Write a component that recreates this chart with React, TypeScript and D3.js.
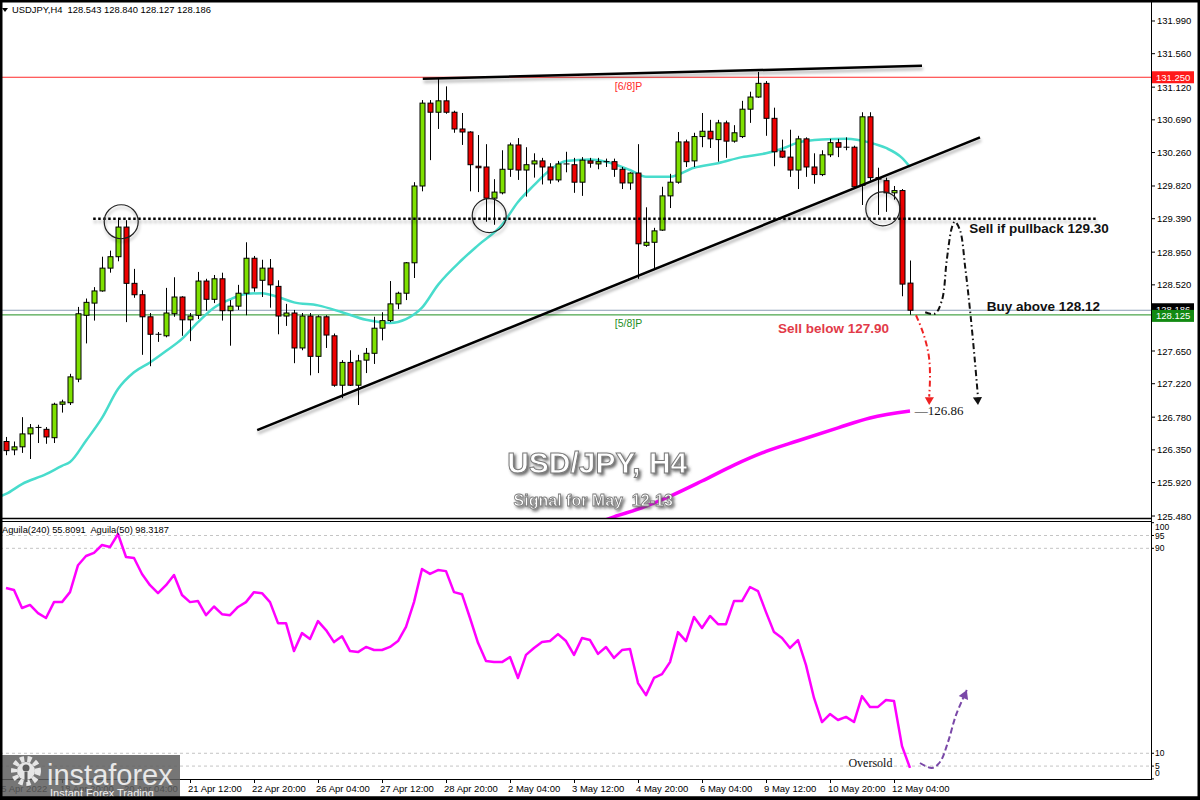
import * as d3 from "d3";

// USDJPY H4 candles, 15 Apr 16:00 .. 12 May 12:00 (bar index 0..113)
const openPrices = [
  126.46, 126.35, 126.39, 126.56, 126.64, 126.62, 126.51, 126.95, 126.97, 127.28,
  128.12, 128.28, 128.44, 128.74, 128.89, 129.28, 128.54, 128.39, 128.1, 127.87,
  127.85, 128.14, 128.36, 128.06, 128.12, 128.57, 128.33, 128.6, 128.18, 128.24,
  128.41, 128.87, 128.58, 128.74, 128.5, 128.11, 128.15, 127.69, 128.11, 127.58,
  128.1, 127.85, 127.2, 127.5, 127.2, 127.53, 127.62, 127.95, 128.05, 128.27,
  128.41, 128.81, 129.82, 130.91, 130.79, 130.94, 130.79, 130.57, 130.53, 130.08,
  130.07, 129.66, 129.73, 130.04, 130.36, 130.03, 130.11, 130.15, 130.07, 129.9,
  130.11, 130.1, 129.87, 130.15, 130.11, 130.14, 130.14, 130.04, 129.86, 129.99,
  129.04, 129.08, 129.24, 129.69, 129.87, 130.4, 130.15, 130.47, 130.54, 130.43,
  130.65, 130.41, 130.47, 130.83, 130.99, 131.17, 130.71, 130.28, 130.2, 130.03,
  130.44, 130.07, 129.97, 130.23, 130.39, 130.33, 130.33, 129.83, 130.73, 129.93,
  129.89, 129.73, 129.76, 128.543,
];
const highPrices = [
  126.52, 126.46, 126.78, 126.69, 126.68, 126.65, 126.97, 127.01, 127.35, 128.23,
  128.34, 128.49, 128.89, 128.97, 129.4, 129.37, 128.73, 128.45, 128.15, 127.9,
  128.48, 128.62, 128.37, 128.15, 128.69, 128.6, 128.65, 128.68, 128.32, 128.52,
  129.08, 128.9, 128.85, 128.86, 128.58, 128.27, 128.19, 128.15, 128.15, 128.12,
  128.12, 127.88, 127.53, 127.66, 127.6, 127.69, 128.1, 128.16, 128.57, 128.43,
  128.82, 129.87, 130.95, 130.95, 131.23, 131.13, 130.81, 130.78, 130.54, 130.49,
  130.37, 129.91, 130.29, 130.39, 130.45, 130.33, 130.25, 130.19, 130.12, 130.15,
  130.27, 130.19, 130.2, 130.19, 130.19, 130.18, 130.18, 130.07, 130.0, 130.37,
  129.54, 129.27, 129.81, 129.98, 130.53, 130.43, 130.52, 130.78, 130.69, 130.69,
  130.68, 130.62, 130.94, 131.06, 131.32, 131.2, 130.85, 130.43, 130.56, 130.48,
  130.46, 130.25, 130.29, 130.44, 130.44, 130.46, 130.35, 130.79, 130.79, 130.06,
  129.93, 129.82, 129.78, 128.84,
];
const lowPrices = [
  126.28, 126.28, 126.31, 126.23, 126.44, 126.43, 126.44, 126.84, 126.94, 127.24,
  127.75, 128.05, 128.43, 128.68, 128.83, 128.03, 128.35, 127.6, 127.45, 127.77,
  127.83, 128.1, 127.85, 127.78, 128.07, 128.18, 128.28, 128.05, 127.72, 128.19,
  128.12, 128.43, 128.36, 128.22, 127.87, 127.98, 127.49, 127.66, 127.33, 127.36,
  127.69, 127.18, 127.03, 127.19, 126.94, 127.36, 127.48, 127.79, 128.03, 128.2,
  128.32, 128.61, 129.75, 130.16, 130.57, 130.77, 130.52, 130.36, 129.75, 129.74,
  129.35, 129.31, 129.71, 129.94, 129.9, 129.68, 129.93, 129.84, 129.85, 129.87,
  130.0, 129.73, 129.69, 130.06, 130.04, 130.07, 129.94, 129.78, 129.77, 128.6,
  129.02, 128.72, 129.23, 129.53, 129.85, 130.07, 130.07, 130.33, 130.32, 130.14,
  130.19, 130.39, 130.45, 130.65, 130.98, 130.48, 130.08, 130.19, 129.94, 129.78,
  129.94, 129.85, 129.95, 130.2, 130.2, 130.29, 129.78, 129.57, 129.89, 129.44,
  129.48, 129.64, 128.37, 128.127,
];
const closePrices = [
  126.34, 126.39, 126.56, 126.64, 126.645, 126.52, 126.95, 126.98, 127.31, 128.14,
  128.29, 128.44, 128.74, 128.89, 129.28, 128.54, 128.39, 128.1, 127.87, 127.865,
  128.15, 128.36, 128.06, 128.11, 128.57, 128.33, 128.6, 128.18, 128.24, 128.41,
  128.87, 128.48, 128.74, 128.52, 128.11, 128.15, 127.69, 128.11, 127.58, 128.1,
  127.86, 127.2, 127.5, 127.2, 127.52, 127.62, 127.95, 128.05, 128.27, 128.41,
  128.81, 129.82, 130.91, 130.79, 130.94, 130.79, 130.57, 130.53, 130.1, 130.06,
  129.66, 129.74, 130.04, 130.36, 130.03, 130.1, 130.15, 130.07, 129.9, 130.11,
  130.1, 129.87, 130.16, 130.12, 130.14, 130.135, 130.04, 129.86, 129.99, 129.06,
  129.08, 129.23, 129.69, 129.87, 130.4, 130.14, 130.47, 130.54, 130.44, 130.65,
  130.41, 130.52, 130.83, 130.99, 131.17, 130.71, 130.27, 130.2, 130.03, 130.44,
  130.07, 129.97, 130.23, 130.39, 130.33, 130.325, 129.81, 130.73, 129.93, 129.91,
  129.73, 129.76, 128.53, 128.186,
];

// moving averages: [bar index, price]
const fastMa: [number, number][] = [
  [-1, 125.73], [0, 125.77], [2, 125.9], [5, 126.03], [7, 126.14], [8, 126.19], [10, 126.47],
  [12, 126.77], [14, 127.15], [16, 127.37], [18, 127.5], [20, 127.65], [22, 127.81],
  [24, 128.03], [26, 128.22], [28, 128.33], [30, 128.4], [32, 128.41], [34, 128.36],
  [36, 128.29], [39, 128.25], [42, 128.16], [45, 128.06], [48, 128.02], [50, 128.07],
  [52, 128.22], [54, 128.52], [57, 128.85], [59, 129.04], [62, 129.31], [64, 129.61],
  [66, 129.83], [68, 130.03], [70, 130.15], [73, 130.17], [75, 130.14], [78, 130.03],
  [80, 129.94], [83, 129.94], [86, 130.06], [89, 130.12], [92, 130.2], [95, 130.25],
  [97, 130.31], [99, 130.39], [102, 130.43], [105, 130.44], [108, 130.39],
  [110, 130.32], [112, 130.19], [113, 130.07],
];
const slowMa: [number, number][] = [
  [72, 125.3], [76, 125.47], [79, 125.57], [83, 125.74], [87, 125.94], [91, 126.15],
  [95, 126.33], [99, 126.47], [104, 126.64], [108, 126.77], [113, 126.86],
];

// Aguila oscillator, one value per bar
const aguila = [
  74.5, 73.7, 66.7, 67.9, 64.7, 62.8, 69.0, 69.0, 72.9, 83.4,
  87.0, 88.2, 91.3, 90.5, 95.6, 86.6, 86.2, 80.0, 75.6, 72.5,
  75.6, 79.6, 71.8, 69.0, 69.4, 63.9, 67.3, 64.3, 63.9, 67.1,
  69.0, 72.9, 72.5, 69.0, 60.8, 60.8, 49.9, 56.9, 54.6, 61.6,
  58.1, 53.4, 55.7, 49.9, 49.5, 51.5, 50.3, 50.3, 51.5, 53.8,
  59.3, 69.0, 81.9, 80.0, 81.5, 81.1, 72.9, 72.1, 62.8, 53.1,
  46.0, 45.6, 45.6, 47.6, 39.4, 48.4, 51.1, 53.4, 53.8, 56.5,
  53.8, 48.4, 55.0, 54.2, 48.8, 51.5, 47.2, 50.3, 50.7, 37.4,
  32.7, 39.4, 40.9, 45.6, 57.3, 53.8, 63.2, 58.9, 63.6, 60.4,
  60.4, 69.4, 69.4, 74.9, 73.3, 65.1, 57.3, 55.0, 51.1, 54.2,
  44.4, 31.6, 22.2, 25.3, 23.0, 24.2, 22.2, 32.3, 28.1, 28.1,
  30.8, 30.4, 12.8, 4.3,
];

const priceTicks = [
  131.99, 131.56, 131.12, 130.69, 130.26, 129.82, 129.39, 128.95, 128.52, 128.09,
  127.65, 127.22, 126.78, 126.35, 125.92, 125.48,
];
const aguilaTicks = [100, 95, 90, 10, 5, 0];
const aguilaLevels = [95, 90, 10, 5];

const timeLabels: [number, string][] = [
  [-1, "15 Apr 2022"], [7, "18 Apr 20:00"], [15, "20 Apr 04:00"], [23, "21 Apr 12:00"],
  [31, "22 Apr 20:00"], [39, "26 Apr 04:00"], [47, "27 Apr 12:00"], [55, "28 Apr 20:00"],
  [63, "2 May 04:00"], [71, "3 May 12:00"], [79, "4 May 20:00"], [87, "6 May 04:00"],
  [95, "9 May 12:00"], [103, "10 May 20:00"], [111, "12 May 04:00"],
];

// drawn objects (bar index, price)
const upperTrend: [number, number][] = [[52.1, 131.23], [114.5, 131.4]];
const lowerTrend: [number, number][] = [[31.4, 126.61], [121.75, 130.46]];
const pullbackLevel = { from: 10.9, to: 136.5, price: 129.39 };
const circles: [number, number][] = [[14.4, 129.35], [60.4, 129.43], [109.6, 129.52]];
const redArrow: [number, number][] = [
  [113.75, 128.12], [114.6, 127.9], [115.3, 127.62], [115.5, 127.35], [115.4, 127.05], [115.4, 126.94],
];
const blackArrow: [number, number][] = [
  [114.9, 128.16], [116.1, 128.14], [117, 128.32], [117.6, 128.85], [118.25, 129.28],
  [118.6, 129.35], [119.25, 129.24], [119.9, 128.75], [120.5, 128.19], [121.1, 127.53],
  [121.5, 127.04], [121.5, 126.94],
];
const purpleArrow: [number, number][] = [
  [114.25, 6.2], [115.75, 4.25], [116.75, 6.6], [117.75, 14.4], [118.75, 24.9], [120.1, 34.7],
];

const FONT = "'Liberation Sans', Arial, sans-serif";
const SERIF = "'Liberation Serif', 'Times New Roman', serif";
const AXIS_X = 1151;
const PRICE_BOTTOM = 518;
const IND_TOP = 521;
const IND_BOTTOM = 779;

const x = d3.scaleLinear().domain([0, 113]).range([6, 910]);
const yP = d3.scaleLinear().domain([125.454, 132.266]).range([PRICE_BOTTOM, 0]);
const yI = d3.scaleLinear().domain([0, 100]).range([778.9, 522.7]);

const priceLine = d3
  .line<[number, number]>()
  .x((d) => x(d[0]))
  .y((d) => yP(d[1]));
const smoothPrice = d3
  .line<[number, number]>()
  .x((d) => x(d[0]))
  .y((d) => yP(d[1]))
  .curve(d3.curveMonotoneX);
const freehand = d3
  .line<[number, number]>()
  .x((d) => x(d[0]))
  .y((d) => yP(d[1]))
  .curve(d3.curveCatmullRom);
const indLine = d3
  .line<number>()
  .x((_, i) => x(i))
  .y((d) => yI(d));
const indFreehand = d3
  .line<[number, number]>()
  .x((d) => x(d[0]))
  .y((d) => yI(d[1]))
  .curve(d3.curveCatmullRom);

function arrowHead(tip: [number, number], from: [number, number], size: number) {
  const ang = Math.atan2(tip[1] - from[1], tip[0] - from[0]);
  const a1 = ang + Math.PI * 0.83;
  const a2 = ang - Math.PI * 0.83;
  const p1 = [tip[0] + size * Math.cos(a1), tip[1] + size * Math.sin(a1)];
  const p2 = [tip[0] + size * Math.cos(a2), tip[1] + size * Math.sin(a2)];
  return `${tip[0]},${tip[1]} ${p1[0]},${p1[1]} ${p2[0]},${p2[1]}`;
}

export default function App() {
  const redPx = redArrow.map((d) => [x(d[0]), yP(d[1])] as [number, number]);
  const blackPx = blackArrow.map((d) => [x(d[0]), yP(d[1])] as [number, number]);
  const purplePx = purpleArrow.map((d) => [x(d[0]), yI(d[1])] as [number, number]);

  return (
    <div style={{ position: "absolute", left: 0, top: 0 }}>
      <svg width={1200} height={800} style={{ display: "block", background: "#fff" }} fontFamily={FONT}>
        <defs>
          <clipPath id="pricePane">
            <rect x={0} y={2} width={AXIS_X} height={PRICE_BOTTOM - 2} />
          </clipPath>
          <clipPath id="indPane">
            <rect x={0} y={IND_TOP} width={AXIS_X} height={IND_BOTTOM - IND_TOP} />
          </clipPath>
          <filter id="shadow" x="-10%" y="-50%" width="120%" height="200%">
            <feDropShadow dx="1" dy="3" stdDeviation="1.5" floodColor="#000" floodOpacity="0.3" />
          </filter>
          <filter id="titleShadow" x="-10%" y="-30%" width="120%" height="160%">
            <feDropShadow dx="2" dy="2" stdDeviation="1.5" floodColor="#444" floodOpacity="0.8" />
          </filter>
        </defs>

        {/* header */}
        <path d="M2,8 L8,8 L5,12 Z" fill="#000" />
        <text x={12} y={13} fontSize={9.4} fill="#000" style={{ whiteSpace: "pre" }}>
          USDJPY,H4  128.543 128.840 128.127 128.186
        </text>

        <g clipPath="url(#pricePane)">
          {/* horizontal levels */}
          <line x1={0} x2={AXIS_X} y1={yP(131.25)} y2={yP(131.25)} stroke="#ff2a2a" strokeWidth={1} />
          <line x1={0} x2={AXIS_X} y1={yP(128.186)} y2={yP(128.186)} stroke="#8a9cb4" strokeWidth={1} />
          <line x1={0} x2={AXIS_X} y1={yP(128.125)} y2={yP(128.125)} stroke="#1f8f1f" strokeWidth={1} />
          <text x={x(76.1)} y={yP(131.08)} fontSize={10.5} fill="#ff2a2a">[6/8]P</text>
          <text x={x(76.1)} y={yP(127.96)} fontSize={10.5} fill="#1f8f1f">[5/8]P</text>

          {/* slow MA */}
          <path d={smoothPrice(slowMa) ?? ""} fill="none" stroke="#ff00ff" strokeWidth={3.5} />

          {/* title */}
          <g filter="url(#titleShadow)">
            <text x={x(73.9)} y={yP(126.04)} textAnchor="middle" fontSize={30} fontWeight="bold" fill="#fff" stroke="#7a7a7a" strokeWidth={1}>
              USD/JPY, H4
            </text>
            <text x={x(73.4)} y={yP(125.61)} textAnchor="middle" fontSize={16} fontWeight="bold" fill="#fff" stroke="#7a7a7a" strokeWidth={0.8} style={{ whiteSpace: "pre" }}>
              Signal for May  12-13
            </text>
          </g>

          {/* fast MA */}
          <path d={smoothPrice(fastMa) ?? ""} fill="none" stroke="#48dccc" strokeWidth={2.5} />

          {/* candles */}
          {openPrices.map((o, i) => {
            const c = closePrices[i];
            const cx = Math.round(x(i)) + 0.5;
            const top = yP(Math.max(o, c));
            const bot = yP(Math.min(o, c));
            const up = c >= o;
            const h = bot - top;
            return (
              <g key={i}>
                <line x1={cx} x2={cx} y1={yP(highPrices[i])} y2={yP(lowPrices[i])} stroke="#000" strokeWidth={1} />
                {h < 1.5 ? (
                  <line x1={cx - 3} x2={cx + 3} y1={top} y2={top} stroke="#000" strokeWidth={1} />
                ) : (
                  <rect x={cx - 2.5} y={top} width={5} height={h} fill={up ? "#7ee000" : "#ee0000"} stroke="#000" strokeWidth={1} />
                )}
              </g>
            );
          })}

          {/* drawn objects */}
          <g filter="url(#shadow)">
            <path d={priceLine(upperTrend) ?? ""} stroke="#000" strokeWidth={2.5} fill="none" />
            <path d={priceLine(lowerTrend) ?? ""} stroke="#000" strokeWidth={2.5} fill="none" />
            <line
              x1={x(pullbackLevel.from)}
              x2={x(pullbackLevel.to)}
              y1={yP(pullbackLevel.price)}
              y2={yP(pullbackLevel.price)}
              stroke="#000"
              strokeWidth={2.5}
              strokeDasharray="2.5,2.5"
            />
            {circles.map((c, i) => (
              <circle key={i} cx={x(c[0])} cy={yP(c[1])} r={17} fill="none" stroke="#222" strokeWidth={1.2} />
            ))}
          </g>

          {/* scenario arrows */}
          <path d={freehand(redArrow.slice(0, -1)) ?? ""} fill="none" stroke="#ee2222" strokeWidth={2} strokeDasharray="6,3,1.5,3" />
          <polygon points={arrowHead(redPx[redPx.length - 1], redPx[redPx.length - 3], 9)} fill="#ee2222" />
          <path d={freehand(blackArrow.slice(0, -1)) ?? ""} fill="none" stroke="#111" strokeWidth={2} strokeDasharray="6,3,1.5,3" />
          <polygon points={arrowHead(blackPx[blackPx.length - 1], blackPx[blackPx.length - 3], 9)} fill="#111" />

          <text x={x(113.6)} y={yP(126.86) + 4} fontFamily={SERIF} fontSize={13} fill="#111">—126.86</text>
          <text x={x(120.4)} y={yP(129.2)} fontSize={13.5} fontWeight="bold" fill="#111">Sell if pullback 129.30</text>
          <text x={x(122.6)} y={yP(128.175)} fontSize={13.5} fontWeight="bold" fill="#111">Buy above 128.12</text>
          <text x={x(96.5)} y={yP(127.89)} fontSize={13.5} fontWeight="bold" fill="#e23a48">Sell below 127.90</text>
        </g>

        {/* price axis */}
        {priceTicks.map((t) => (
          <g key={t}>
            <line x1={AXIS_X} x2={AXIS_X + 4} y1={yP(t)} y2={yP(t)} stroke="#000" />
            <text x={AXIS_X + 6} y={yP(t) + 3.5} fontSize={9.5} fill="#000">{t.toFixed(3)}</text>
          </g>
        ))}
        <rect x={AXIS_X + 1} y={yP(131.25) - 6} width={42} height={12} fill="#ff1a1a" />
        <text x={AXIS_X + 5} y={yP(131.25) + 3.5} fontSize={9.5} fill="#fff">131.250</text>
        <rect x={AXIS_X + 1} y={yP(128.186) - 7} width={42} height={12} fill="#000" />
        <text x={AXIS_X + 5} y={yP(128.186) + 2.5} fontSize={9.5} fill="#fff">128.186</text>
        <rect x={AXIS_X + 1} y={yP(128.125) - 5} width={42} height={12} fill="#128a12" />
        <text x={AXIS_X + 5} y={yP(128.125) + 4.5} fontSize={9.5} fill="#fff">128.125</text>

        {/* indicator pane */}
        <g clipPath="url(#indPane)">
          {aguilaLevels.map((lv) => (
            <line key={lv} x1={0} x2={AXIS_X} y1={yI(lv)} y2={yI(lv)} stroke="#c4c4c4" strokeDasharray="3,3" />
          ))}
          <path d={indLine(aguila) ?? ""} fill="none" stroke="#ff00ff" strokeWidth={2.5} strokeLinejoin="round" />
          <path d={indFreehand(purpleArrow) ?? ""} fill="none" stroke="#7a48a8" strokeWidth={2} strokeDasharray="6,3" />
          <polygon points={arrowHead(purplePx[purplePx.length - 1], purplePx[purplePx.length - 2], 10)} fill="#7a48a8" />
          <text x={x(105.3)} y={yI(4.5)} fontFamily={SERIF} fontSize={12} fill="#111">Oversold</text>
        </g>
        <text x={2} y={533} fontSize={9.3} fill="#000" style={{ whiteSpace: "pre" }}>
          Aguila(240) 55.8091  Aguila(50) 98.3187
        </text>
        {aguilaTicks.map((t) => (
          <g key={t}>
            <line x1={AXIS_X} x2={AXIS_X + 3} y1={yI(t)} y2={yI(t)} stroke="#000" />
            <text x={AXIS_X + 4} y={Math.min(Math.max(yI(t) + 3, 530), 776)} fontSize={8.5} fill="#000">{t}</text>
          </g>
        ))}

        {/* frames */}
        <line x1={0} x2={AXIS_X} y1={PRICE_BOTTOM + 0.5} y2={PRICE_BOTTOM + 0.5} stroke="#000" strokeWidth={1.5} />
        <line x1={0} x2={AXIS_X} y1={IND_TOP + 0.5} y2={IND_TOP + 0.5} stroke="#000" strokeWidth={1} />
        <line x1={0} x2={AXIS_X} y1={IND_BOTTOM + 0.5} y2={IND_BOTTOM + 0.5} stroke="#000" strokeWidth={1} />
        <line x1={AXIS_X + 0.5} x2={AXIS_X + 0.5} y1={0} y2={IND_BOTTOM + 1} stroke="#000" strokeWidth={1} />

        {/* time axis */}
        {timeLabels.map(([i, label]) => (
          <g key={label}>
            <line x1={x(i) + 0.5} x2={x(i) + 0.5} y1={IND_BOTTOM} y2={IND_BOTTOM + 4} stroke="#000" />
            <text x={x(i) - 2} y={792} fontSize={9.5} fill="#000">{label}</text>
          </g>
        ))}

        {/* watermark logo */}
        <g>
          <rect x={0} y={755} width={180} height={45} fill="#5e5e5e" opacity={0.85} />
          <circle cx={26} cy={771} r={12} fill="none" stroke="#e6e6e6" strokeWidth={6} strokeDasharray="4,3.2" />
          <circle cx={26} cy={771} r={9} fill="#e6e6e6" />
          <circle cx={26} cy={768} r={3.5} fill="#5e5e5e" />
          <rect x={24.5} y={772} width={3} height={10} fill="#5e5e5e" />
          <text x={47} y={785} fontSize={29} fill="#e8e8e8">instaforex</text>
          <text x={50} y={797} fontSize={11} fill="#f0f0f0">Instant Forex Trading</text>
        </g>

        {/* outer border */}
        <rect x={1} y={1} width={1198} height={797} fill="none" stroke="#000" strokeWidth={3} />
        <line x1={0} x2={1200} y1={798.5} y2={798.5} stroke="#000" strokeWidth={4} />
      </svg>
    </div>
  );
}
